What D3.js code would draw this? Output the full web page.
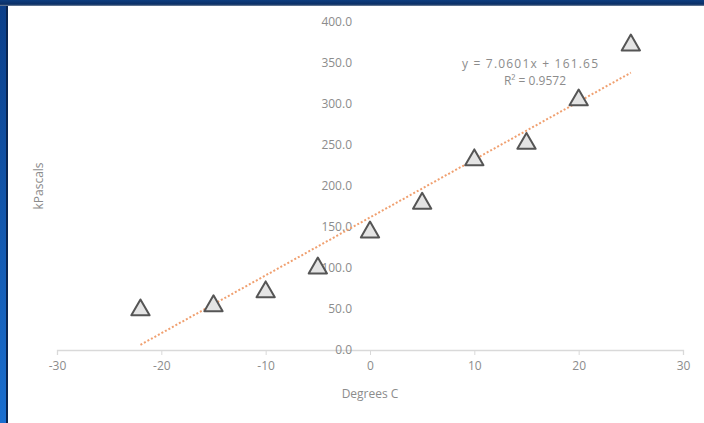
<!DOCTYPE html>
<html>
<head>
<meta charset="utf-8">
<script src="https://cdn.jsdelivr.net/npm/d3@7/dist/d3.min.js"></script>
<style>
  html, body { margin: 0; padding: 0; background: #ffffff; }
  svg { display: block; }
  text { font-family: "Open Sans", "Liberation Sans", sans-serif; fill: #8c8c8c; }
</style>
</head>
<body>
<svg id="chart" width="704" height="423"></svg>
<script>
// Temperature (°C) vs pressure (kPa) measurements
const temps = [-22, -15, -10, -5, 0, 5, 10, 15, 20, 25];
const pressures = [50, 55, 72, 101, 145, 180, 233, 253, 306, 373];

// Linear trendline as reported
const slope = 7.0601;
const intercept = 161.65;
const rSquared = 0.9572;

const xTicks = [-30, -20, -10, 0, 10, 20, 30];
const yTicks = [0, 50, 100, 150, 200, 250, 300, 350, 400];

const svg = d3.select("#chart");
const W = 704, H = 423;

// Window frame
const defs = svg.append("defs");
const lg = defs.append("linearGradient").attr("id", "leftEdge")
  .attr("x1", 0).attr("y1", 0).attr("x2", 0).attr("y2", 1);
lg.append("stop").attr("offset", "0%").attr("stop-color", "#0b3e88");
lg.append("stop").attr("offset", "100%").attr("stop-color", "#1a6fd0");
const tg = defs.append("linearGradient").attr("id", "topEdge")
  .attr("x1", 0).attr("y1", 0).attr("x2", 0).attr("y2", 1);
tg.append("stop").attr("offset", "0%").attr("stop-color", "#0d3d80");
tg.append("stop").attr("offset", "70%").attr("stop-color", "#0a2f66");
tg.append("stop").attr("offset", "100%").attr("stop-color", "#7a8aa0");

svg.append("rect").attr("x", 0).attr("y", 0).attr("width", W).attr("height", H).attr("fill", "#ffffff");
svg.append("rect").attr("x", 0).attr("y", 0).attr("width", 7).attr("height", H).attr("fill", "url(#leftEdge)");
svg.append("rect").attr("x", 6).attr("y", 5).attr("width", 2).attr("height", H).attr("fill", "#0a2550");
svg.append("rect").attr("x", 0).attr("y", 0).attr("width", W).attr("height", 6).attr("fill", "url(#topEdge)");

// Scales
const x = d3.scaleLinear().domain([-30, 30]).range([57, 683]);
const y = d3.scaleLinear().domain([0, 400]).range([350, 22]);

// X axis
const xAxis = svg.append("g").attr("transform", `translate(0,${y(0)})`)
  .call(d3.axisBottom(x).tickValues(xTicks).tickSize(5).tickPadding(6).tickFormat(d => String(d)));
xAxis.select(".domain").attr("stroke", "#d9d9d9").attr("stroke-width", 1.3);
xAxis.selectAll(".tick line").attr("stroke", "#d9d9d9");
xAxis.selectAll(".tick text").attr("font-size", 12).style("fill", "#8c8c8c");

// Y axis labels sit beside x = 0
const yAxis = svg.append("g").attr("transform", `translate(${x(0)},0)`)
  .call(d3.axisLeft(y).tickValues(yTicks).tickSize(0).tickPadding(18).tickFormat(d => d.toFixed(1)));
yAxis.select(".domain").remove();
yAxis.selectAll(".tick text").attr("font-size", 12).style("fill", "#8c8c8c");

// Axis titles
svg.append("text").attr("x", x(0)).attr("y", 398).attr("text-anchor", "middle")
  .attr("font-size", 12).text("Degrees C");
svg.append("text").attr("transform", `translate(43,${y(200)}) rotate(-90)`)
  .attr("text-anchor", "middle").attr("font-size", 12).text("kPascals");

// Trendline
const xMin = d3.min(temps), xMax = d3.max(temps);
svg.append("line")
  .attr("x1", x(xMin)).attr("y1", y(slope * xMin + intercept))
  .attr("x2", x(xMax)).attr("y2", y(slope * xMax + intercept))
  .attr("stroke", "#f0a070").attr("stroke-width", 2).attr("stroke-dasharray", "2,2");

// Data markers
const tri = d3.symbol().type(d3.symbolTriangle).size(145);
svg.append("g").selectAll("path").data(temps).join("path")
  .attr("transform", (d, i) => `translate(${x(d)},${y(pressures[i]) + 1})`)
  .attr("d", tri)
  .attr("fill", "#e4e4e4").attr("stroke", "#555555").attr("stroke-width", 2)
  .attr("stroke-linejoin", "round");

// Trendline equation
svg.append("text").attr("x", 530).attr("y", 68).attr("text-anchor", "middle")
  .attr("font-size", 12).attr("textLength", 136).text(`y = ${slope}x + ${intercept}`);
svg.append("text").attr("x", 535).attr("y", 85).attr("text-anchor", "middle")
  .attr("font-size", 12).text(`R² = ${rSquared}`);
</script>
</body>
</html>
